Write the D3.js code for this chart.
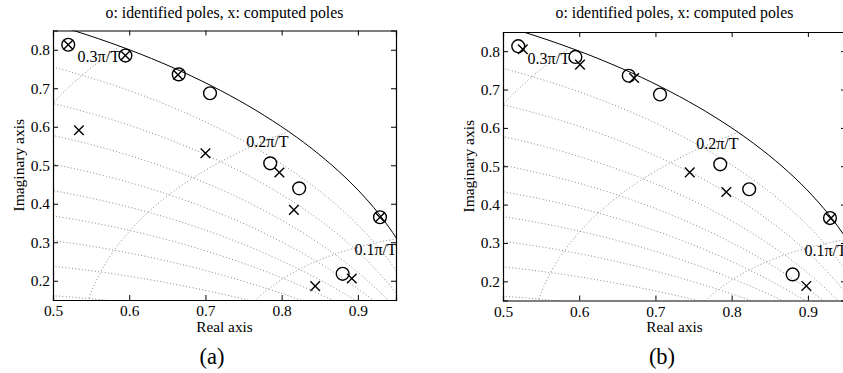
<!DOCTYPE html>
<html><head><meta charset="utf-8">
<script src="https://cdn.jsdelivr.net/npm/d3@7"></script>
<style>
body{margin:0;background:#fff;}
svg text{font-family:"Liberation Serif","Times New Roman",serif;fill:#000;}
</style></head>
<body><svg id="chart" width="843" height="373"></svg>
<script>
// ---- data ----
const titleText = "o: identified poles, x: computed poles";
const xTicks = [0.5, 0.6, 0.7, 0.8, 0.9];
const yTicks = [0.2, 0.3, 0.4, 0.5, 0.6, 0.7, 0.8];
const xDomain = [0.5, 0.95];
const yDomain = [0.15, 0.85];
const zetaValues = [0.1, 0.2, 0.3, 0.4, 0.5, 0.6, 0.7, 0.8, 0.9];
const wnFactors = [0.1, 0.2, 0.3, 0.4, 0.5, 0.6, 0.7, 0.8, 0.9, 1.0];
const wnLabelFactors = [0.1, 0.2, 0.3];
const wnLabels = ["0.1\u03C0/T", "0.2\u03C0/T", "0.3\u03C0/T"];
const identifiedPoles = [[0.520,0.813],[0.595,0.785],[0.665,0.736],[0.706,0.687],[0.785,0.505],[0.823,0.440],[0.880,0.218],[0.929,0.365]];
const computedPolesA = [[0.520,0.813],[0.595,0.785],[0.664,0.735],[0.534,0.591],[0.700,0.531],[0.797,0.481],[0.816,0.384],[0.844,0.186],[0.892,0.206],[0.929,0.365]];
const computedPolesB = [[0.526,0.805],[0.601,0.765],[0.672,0.730],[0.745,0.484],[0.793,0.433],[0.930,0.364],[0.898,0.188]];
const panelLabels = ["(a)", "(b)"];

const svg = d3.select("#chart");

const panels = [
  {left:53, right:396, top:30.5, bottom:300, computed:computedPolesA, label:panelLabels[0], capX:212, id:"a"},
  {left:503, right:846, top:32, bottom:300.5, computed:computedPolesB, label:panelLabels[1], capX:662, id:"b"}
];

panels.forEach(p => {
  const x = d3.scaleLinear().domain(xDomain).range([p.left, p.right]);
  const y = d3.scaleLinear().domain(yDomain).range([p.bottom, p.top]);
  const g = svg.append("g");
  const cx = (p.left + p.right) / 2;

  g.append("clipPath").attr("id", "clip" + p.id).append("rect")
    .attr("x", p.left).attr("y", p.top).attr("width", p.right - p.left).attr("height", p.bottom - p.top);

  const line = d3.line().x(d => x(d[0])).y(d => y(d[1]));
  const grid = g.append("g").attr("clip-path", `url(#clip${p.id})`);
  const gridStyle = sel => sel.attr("fill", "none").attr("stroke", "#7a7a7a")
    .attr("stroke-width", 0.9).attr("stroke-dasharray", "1,2.3");

  // damping ratio spirals
  zetaValues.forEach(z => {
    const pts = d3.range(0, 301).map(i => {
      const wn = Math.PI * i / 300;
      const r = Math.exp(-z * wn), th = wn * Math.sqrt(1 - z * z);
      return [r * Math.cos(th), r * Math.sin(th)];
    });
    grid.append("path").attr("d", line(pts)).call(gridStyle);
  });
  // natural frequency curves
  wnFactors.forEach(f => {
    const wn = f * Math.PI;
    const pts = d3.range(0, 201).map(i => {
      const z = i / 200;
      const r = Math.exp(-z * wn), th = wn * Math.sqrt(1 - z * z);
      return [r * Math.cos(th), r * Math.sin(th)];
    });
    grid.append("path").attr("d", line(pts)).call(gridStyle);
  });
  // unit circle
  const circ = d3.range(0, 361).map(i => [Math.cos(i * Math.PI / 180), Math.sin(i * Math.PI / 180)]);
  grid.append("path").attr("d", line(circ)).attr("fill", "none").attr("stroke", "#000").attr("stroke-width", 1);

  // wn labels
  wnLabelFactors.forEach((f, i) => {
    const a = f * Math.PI;
    g.append("text").attr("x", x(Math.cos(a))).attr("y", y(Math.sin(a)) + 16)
      .attr("text-anchor", "end").attr("font-size", 16).text(wnLabels[i]);
  });

  // markers
  const mk = g.append("g").attr("clip-path", `url(#clip${p.id})`);
  mk.selectAll("circle.id").data(identifiedPoles).join("circle")
    .attr("cx", d => x(d[0])).attr("cy", d => y(d[1])).attr("r", 6.4)
    .attr("fill", "none").attr("stroke", "#000").attr("stroke-width", 1.4);
  const s = 4.8;
  mk.selectAll("path.cp").data(p.computed).join("path")
    .attr("d", d => {
      const px = x(d[0]), py = y(d[1]);
      return `M${px - s},${py - s}L${px + s},${py + s}M${px - s},${py + s}L${px + s},${py - s}`;
    })
    .attr("stroke", "#000").attr("stroke-width", 1.4).attr("fill", "none");

  // axes
  const fs = 15.4;
  const ax = g.append("g").attr("transform", `translate(0,${p.bottom})`)
    .call(d3.axisBottom(x).tickValues(xTicks).tickSize(-5).tickPadding(5.5).tickFormat(d3.format(".1f")));
  const axt = g.append("g").attr("transform", `translate(0,${p.top})`)
    .call(d3.axisTop(x).tickValues(xTicks).tickSize(-5).tickFormat(""));
  const ay = g.append("g").attr("transform", `translate(${p.left},0)`)
    .call(d3.axisLeft(y).tickValues(yTicks).tickSize(-5).tickPadding(3).tickFormat(d3.format(".1f")));
  const ayr = g.append("g").attr("transform", `translate(${p.right},0)`)
    .call(d3.axisRight(y).tickValues(yTicks).tickSize(-5).tickFormat(""));
  [ax, axt, ay, ayr].forEach(a => {
    a.selectAll("path.domain").attr("stroke", "#000").attr("stroke-width", 1.2);
    a.selectAll("line").attr("stroke", "#000").attr("stroke-width", 1);
    a.selectAll("text").attr("font-size", fs).attr("font-family", "Liberation Serif").attr("fill", "#000");
  });

  // titles and labels
  g.append("text").attr("x", cx).attr("y", 18).attr("text-anchor", "middle").attr("font-size", 15.8).text(titleText);
  g.append("text").attr("x", cx).attr("y", 332).attr("text-anchor", "middle").attr("font-size", 15.3).text("Real axis");
  g.append("text").attr("transform", `translate(${p.left - 29},${(p.top + p.bottom) / 2}) rotate(-90)`)
    .attr("text-anchor", "middle").attr("font-size", 15.5).text("Imaginary axis");
  g.append("text").attr("x", p.capX).attr("y", 364).attr("text-anchor", "middle").attr("font-size", 22.5).text(p.label);
});
</script></body></html>
